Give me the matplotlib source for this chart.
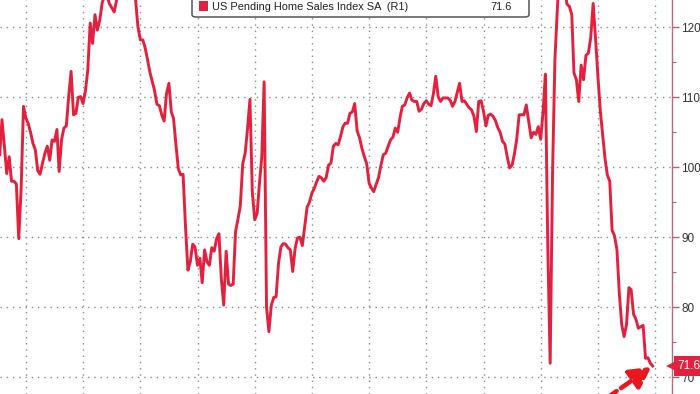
import pandas as pd
import matplotlib
matplotlib.use('Agg')
import matplotlib.pyplot as plt
import matplotlib.dates as mdates
import matplotlib.transforms as mtransforms
from matplotlib.ticker import MultipleLocator
from matplotlib.patches import FancyBboxPatch, Rectangle

# === Data: US Pending Home Sales Index SA, monthly (Jan 2001 - Nov 2023) ===
phsi_2001_2004 = [101.8, 106.8, 103.0, 99.1, 101.5, 98.0, 98.0, 97.6, 89.8, 97.0, 108.7, 107.0,
                  106.2, 105.0, 103.4, 102.5, 99.5, 99.0, 100.6, 102.0, 103.0, 101.0, 103.9, 103.7,
                  105.4, 99.4, 103.9, 105.6, 105.9, 110.1, 113.7, 107.5, 107.7, 110.0, 110.1, 109.1,
                  111.0, 113.9, 120.6, 117.7, 121.8, 119.6, 121.0, 123.5, 124.5, 124.5, 123.4, 122.8]
phsi_2005_2008 = [122.2, 123.7, 125.0, 125.5, 126.0, 125.5, 125.0, 124.8, 124.5, 124.0, 120.1, 118.2,
                  118.2, 117.2, 115.5, 113.7, 112.3, 111.0, 109.0, 108.8, 107.5, 106.6, 110.5, 112.0,
                  107.9, 107.0, 103.2, 99.8, 98.9, 99.0, 91.5, 85.3, 86.5, 89.0, 88.6, 86.0,
                  87.0, 83.5, 88.2, 86.5, 86.0, 88.5, 88.0, 89.8, 90.5, 84.0, 80.3, 88.0]
phsi_2009_2012 = [83.3, 83.1, 83.3, 90.8, 92.6, 94.5, 100.5, 102.0, 105.5, 109.7, 96.5, 92.5,
                  93.4, 97.5, 101.5, 112.2, 80.0, 76.5, 80.3, 81.4, 81.5, 86.3, 88.6, 89.1,
                  89.0, 88.5, 88.2, 85.1, 88.4, 89.9, 90.0, 88.8, 91.5, 94.3, 95.0, 96.3,
                  97.0, 97.9, 98.7, 98.5, 98.0, 98.5, 100.3, 100.6, 103.0, 103.4, 103.2, 104.4]
phsi_2013_2016 = [105.8, 106.3, 106.3, 107.7, 107.9, 109.1, 105.2, 104.2, 102.7, 101.5, 100.5, 97.7,
                  97.0, 96.5, 97.6, 98.5, 100.3, 101.8, 102.0, 103.0, 103.9, 104.3, 105.6, 105.0,
                  107.2, 108.7, 108.9, 109.9, 110.6, 109.6, 109.4, 109.4, 108.0, 108.3, 109.1, 109.5,
                  109.0, 108.8, 110.5, 113.0, 110.1, 109.4, 109.9, 109.9, 109.9, 109.6, 108.7, 109.4]
phsi_2017_2020 = [110.8, 112.0, 109.4, 109.5, 109.0, 108.5, 108.2, 107.3, 105.1, 109.4, 109.5, 108.0,
                  105.9, 107.4, 107.6, 107.3, 106.7, 105.7, 105.0, 103.7, 103.3, 101.4, 99.9, 100.3,
                  102.0, 104.0, 107.5, 107.5, 107.5, 108.9, 106.5, 104.2, 105.0, 104.7, 105.8, 104.0,
                  108.0, 113.3, 88.5, 72.0, 99.5, 115.5, 122.5, 130.0, 128.0, 126.0, 123.3, 123.0]
phsi_2021_2023 = [121.8, 113.5, 112.5, 109.4, 114.6, 112.5, 116.0, 116.3, 118.5, 123.4, 118.5, 113.0,
                  108.0, 104.8, 101.3, 98.9, 98.0, 91.0, 90.2, 88.2, 82.0, 77.5, 75.8, 77.5,
                  82.8, 82.5, 79.0, 78.3, 77.0, 77.2, 77.4, 72.7, 72.8, 72.0, 71.6]

series_name = 'US Pending Home Sales Index SA  (R1)'
y_ticks = [70, 80, 90, 100, 110, 120]

values = (phsi_2001_2004 + phsi_2005_2008 + phsi_2009_2012 +
          phsi_2013_2016 + phsi_2017_2020 + phsi_2021_2023)
dates = pd.date_range('2001-01-31', periods=len(values), freq='ME')
last_txt = f'{values[-1]:.1f}'

# === Style ===
RED = '#E4203F'
ARROW_RED = '#EA1620'
plt.rcParams['font.family'] = ['Liberation Sans', 'DejaVu Sans']

W, H = 700, 394
fig = plt.figure(figsize=(W / 100, H / 100), dpi=100)
ax = fig.add_axes([0, 0, 672 / W, 1])

ax.plot(dates, values, color=RED, lw=2.1, solid_joinstyle='round', zorder=3)

# x range: 2-year grid spacing is 57.2 px, Jan 2002 sits at x=26
x0 = mdates.date2num(pd.Timestamp('2002-01-01'))
days_per_px = 2 * 365.25 / 57.2
ax.set_xlim(x0 - 26 * days_per_px, x0 + 646 * days_per_px)
ax.set_ylim(67.6, 123.9)

ax.xaxis.set_major_locator(mdates.YearLocator(2))
ax.tick_params(axis='x', which='both', bottom=False, labelbottom=False)

ax.yaxis.tick_right()
ax.set_yticks(y_ticks)
ax.yaxis.set_minor_locator(MultipleLocator(5))
ax.tick_params(axis='y', which='major', direction='out', length=5, width=1.0,
               color='#b5636f', labelsize=8.5, labelcolor='#333333', pad=1.5)
ax.tick_params(axis='y', which='minor', direction='out', length=3, width=0.8,
               color='#b5636f')

ax.grid(True, which='major', color='#8a8a8a', linestyle=(0, (1, 3.5)), linewidth=1.0)
for s in ['top', 'left', 'bottom']:
    ax.spines[s].set_visible(False)
ax.spines['right'].set_color('#a8707a')
ax.spines['right'].set_linewidth(1.0)

# — last value tag on the right axis —
blend = mtransforms.blended_transform_factory(ax.transAxes, ax.transData)
ax.plot([1.0], [values[-1]], marker='<', ms=8, color=RED, transform=blend,
        clip_on=False, zorder=5, markeredgewidth=0)
ax.annotate(last_txt, xy=(1.0, values[-1]), xycoords=blend, xytext=(3.8, 0),
            textcoords='offset points', ha='left', va='center', color='white',
            fontsize=8.5, bbox=dict(boxstyle='square,pad=0.3', fc=RED, ec='none'),
            annotation_clip=False, zorder=6)

# — dashed red arrow to the last point —
ax.annotate('', xy=(dates[-1], values[-1]), xycoords='data', xytext=(-33, -23),
            textcoords='offset points', annotation_clip=False,
            arrowprops=dict(arrowstyle='-|>,head_length=0.85,head_width=0.45',
                            mutation_scale=15, color=ARROW_RED, lw=3.3,
                            linestyle=(0, (2.6, 1.2)), shrinkA=0, shrinkB=1))

# — legend box (top cut off) —
def fx(x):
    return x / W

def fy(y):
    return 1 - y / H

fig.patches.append(FancyBboxPatch((fx(192), fy(17)), fx(337), 30 / H,
                                  boxstyle='round,pad=0,rounding_size=0.006',
                                  transform=fig.transFigure, fc='white',
                                  ec='#555555', lw=1.1, zorder=10))
fig.patches.append(Rectangle((fx(199), fy(10.5)), fx(9), 9 / H, fc=RED, ec='none',
                             transform=fig.transFigure, zorder=11))
fig.text(fx(212), fy(10.5), series_name, ha='left', va='baseline', fontsize=7.9,
         color='#222222', zorder=12)
fig.text(fx(512), fy(10.5), last_txt, ha='right', va='baseline', fontsize=7.9,
         color='#222222', zorder=12)

fig.savefig('out.png', dpi=100)
